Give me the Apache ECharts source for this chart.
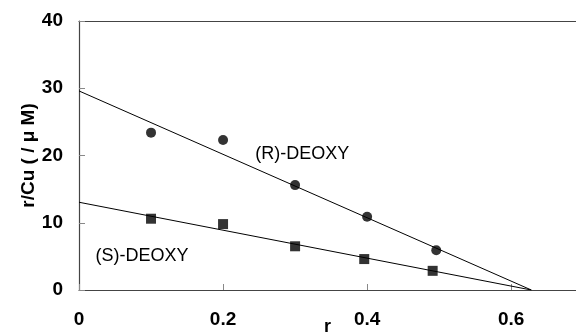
<!DOCTYPE html>
<html>
<head>
<meta charset="utf-8">
<script src="https://cdn.jsdelivr.net/npm/echarts@6/dist/echarts.min.js"></script>
<style>
  html, body { margin: 0; padding: 0; background: #fff; }
  #chart { width: 576px; height: 332px; }
</style>
</head>
<body>
<div id="chart"></div>
<script>
// data
const rX = [0.1, 0.2, 0.3, 0.4, 0.496];
const rY = [23.4, 22.3, 15.6, 10.9, 5.9];
const sX = [0.1, 0.2, 0.3, 0.396, 0.491];
const sY = [10.6, 9.8, 6.5, 4.6, 2.85];
const rFit = [[0, 29.6], [0.628, 0]];
const sFit = [[0, 13.05], [0.628, 0]];
const xTicks = [0, 0.2, 0.4, 0.6];
const yTicks = [0, 10, 20, 30, 40];

const chart = echarts.init(document.getElementById('chart'), null, { renderer: 'canvas' });

const font = 'Liberation Sans, Arial, sans-serif';
const axisColor = '#444';

// text placed at a data position via a markPoint label
function textMark(coord, text) {
  return {
    symbol: 'circle',
    symbolSize: 1,
    itemStyle: { color: 'rgba(0,0,0,0)' },
    data: [{ coord: coord }],
    label: { show: true, position: 'inside', formatter: text, fontFamily: font, fontSize: 18, color: '#000' }
  };
}

const option = {
  animation: false,
  grid: { left: 79, top: 21, right: 0, bottom: 42, outerBoundsMode: 'none', containLabel: false },
  xAxis: [
    {
      type: 'value',
      min: 0,
      max: 0.69,
      interval: 0.2,
      name: 'r',
      nameLocation: 'middle',
      nameGap: 28,
      nameMoveOverlap: false,
      nameTextStyle: { fontFamily: font, fontWeight: 'bold', fontSize: 18, color: '#000', verticalAlign: 'top' },
      axisLine: { lineStyle: { color: axisColor, width: 1.2 } },
      axisTick: { inside: true, length: 6, lineStyle: { color: '#888' } },
      axisLabel: {
        margin: 20,
        showMaxLabel: false,
        fontFamily: font, fontWeight: 'bold', fontSize: 19, color: '#000',
        formatter: v => xTicks.includes(+v.toFixed(1)) ? String(+v.toFixed(1)) : ''
      },
      splitLine: { show: false }
    },
    {
      type: 'value',
      position: 'top',
      min: 0,
      max: 0.69,
      axisLine: { lineStyle: { color: axisColor, width: 1.2 } },
      axisTick: { show: false },
      axisLabel: { show: false },
      splitLine: { show: false }
    }
  ],
  yAxis: {
    type: 'value',
    min: 0,
    max: 40,
    interval: 10,
    name: 'r/Cu ( / μ M)',
    nameLocation: 'middle',
    nameRotate: 90,
    nameGap: 41,
    nameMoveOverlap: false,
    nameTextStyle: { fontFamily: font, fontWeight: 'bold', fontSize: 19, color: '#000' },
    axisLine: { show: true, lineStyle: { color: axisColor, width: 1.2 } },
    axisTick: { show: true, inside: true, length: 6, lineStyle: { color: '#888' } },
    axisLabel: {
      margin: 16,
      fontFamily: font, fontWeight: 'bold', fontSize: 19, color: '#000',
      formatter: v => yTicks.includes(v) ? String(v) : ''
    },
    splitLine: { show: false }
  },
  series: [
    {
      name: 'R fit',
      type: 'line',
      data: rFit,
      symbol: 'none',
      lineStyle: { color: '#000', width: 1 },
      markPoint: textMark([0.31, 20.2], '(R)-DEOXY')
    },
    {
      name: 'S fit',
      type: 'line',
      data: sFit,
      symbol: 'none',
      lineStyle: { color: '#000', width: 1 },
      markPoint: textMark([0.0875, 5.05], '(S)-DEOXY')
    },
    {
      name: '(R)-DEOXY',
      type: 'scatter',
      data: rX.map((x, i) => [x, rY[i]]),
      symbol: 'circle',
      symbolSize: 10,
      itemStyle: { color: '#000' }
    },
    {
      name: '(S)-DEOXY',
      type: 'scatter',
      data: sX.map((x, i) => [x, sY[i]]),
      symbol: 'rect',
      symbolSize: 10,
      itemStyle: { color: '#000' }
    }
  ]
};

chart.setOption(option);
</script>
</body>
</html>
